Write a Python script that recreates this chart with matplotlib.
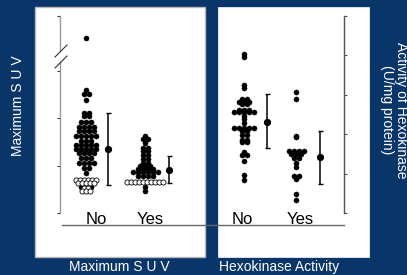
import numpy as np
import matplotlib
matplotlib.use('Agg')
import matplotlib.pyplot as plt
from matplotlib.lines import Line2D
from matplotlib.patches import Rectangle
import matplotlib.transforms as mtransforms

plt.rcParams['font.family'] = ['Liberation Sans', 'DejaVu Sans']

# ---------------- data ----------------
categories = ['No', 'Yes']

# Maximum SUV (left panel)
suv_no_filled = [3.70, 2.60, 2.52, 2.52, 2.39, 2.11, 2.11, 2.05, 2.05,
                 1.92, 1.92, 1.92, 1.82, 1.82, 1.82, 1.82, 1.73, 1.73, 1.73, 1.73,
                 1.63, 1.63, 1.63, 1.63, 1.63, 1.52, 1.52, 1.52,
                 1.44, 1.44, 1.44, 1.44, 1.44, 1.35, 1.35, 1.35, 1.35, 1.35,
                 1.27, 1.27, 1.27, 1.27, 1.16, 1.16, 1.16, 1.06, 1.06, 1.06, 1.06,
                 0.95, 0.95, 0.85, 0.56, 0.56, 0.56]
suv_no_open = [0.70, 0.70, 0.70, 0.70, 0.70, 0.70, 0.63, 0.63, 0.63, 0.63, 0.63,
               0.53, 0.53, 0.47, 0.47, 0.47]
suv_yes_filled = [1.63, 1.56, 1.56, 1.48, 1.37, 1.37, 1.31, 1.31, 1.23, 1.23,
                  1.14, 1.14, 1.06, 1.06, 0.99, 0.99, 0.99, 0.93, 0.93, 0.93, 0.93,
                  0.87, 0.87, 0.87, 0.87, 0.87, 0.87, 0.78, 0.78, 0.78, 0.78,
                  0.55, 0.47]
suv_yes_open = [0.66, 0.66, 0.66, 0.66, 0.66, 0.66, 0.66, 0.66, 0.66, 0.66]
suv_mean = [1.35, 0.91]
suv_low = [0.59, 0.63]
suv_high = [2.11, 1.21]

# Hexokinase activity (right panel, U/mg protein)
hk_no = [4.04, 3.96, 3.25, 3.17, 2.89, 2.89, 2.82, 2.82, 2.82, 2.77, 2.77,
         2.61, 2.61, 2.61, 2.56, 2.56, 2.56, 2.56, 2.56, 2.46, 2.39, 2.28,
         2.16, 2.16, 2.16, 2.16, 2.16, 2.08, 2.08, 1.98, 1.98, 1.85, 1.85,
         1.80, 1.80, 1.55, 1.47, 1.47, 1.32, 0.96, 0.84]
hk_yes = [3.07, 2.89, 1.95, 1.93, 1.57, 1.57, 1.57, 1.57, 1.50, 1.50, 1.50,
          1.40, 1.40, 1.27, 1.17, 0.94, 0.94, 0.86, 0.48, 0.33]
hk_mean = [2.31, 1.42]
hk_low = [1.65, 0.74]
hk_high = [3.02, 2.08]

# ---------------- layout ----------------
W, H = 407, 275
BG = '#0a3569'
fig = plt.figure(figsize=(W / 100, H / 100), dpi=100, facecolor=BG)

def fx(px):
    return px / W

def fy(py):
    return 1 - py / H

# white panels
fig.patches.append(Rectangle((fx(35), fy(257)), 170 / W, 250 / H, transform=fig.transFigure,
                             facecolor='white', edgecolor='#b8b8b8', lw=1, zorder=-2))
fig.patches.append(Rectangle((fx(218), fy(257)), 151 / W, 250 / H, transform=fig.transFigure,
                             facecolor='white', edgecolor='white', lw=0.5, zorder=-2))

ax_l, ax_b, ax_w, ax_h = 60, 213, 284, 197
ax = fig.add_axes([fx(ax_l), fy(ax_b), ax_w / W, ax_h / H])
ax.patch.set_alpha(0)
ax.set_xlim(0, ax_w)
ax.set_ylim(0, 4.165)
ax2 = ax.twinx()
ax2.patch.set_alpha(0)
ax2.set_ylim(0, 5)

dot_pos = [26, 85, 184, 236]
err_pos = [48, 109, 207, 260]
lab_pos = [36, 90, 182, 240]


def row_offsets(vals, s):
    """Centre each group of equal values in a horizontal row (dot-plot layout)."""
    vals = np.asarray(vals, float)
    offs = np.zeros(len(vals))
    for v in np.unique(vals):
        idx = np.where(vals == v)[0]
        n = len(idx)
        offs[idx] = (np.arange(n) - (n - 1) / 2) * s
    return offs


def draw_group(axis, xc, filled, opened=None, s_f=5.0, s_o=4.1):
    xf = xc + row_offsets(filled, s_f)
    axis.plot(xf, filled, 'o', ms=3.7, color='black', mec='black', mew=0.3, ls='none',
              clip_on=False, zorder=3)
    if opened:
        xo = xc + row_offsets(opened, s_o)
        axis.plot(xo, opened, 'o', ms=3.7, mfc='white', mec='black', mew=0.6, ls='none',
                  clip_on=False, zorder=4)


draw_group(ax, dot_pos[0], suv_no_filled, suv_no_open)
draw_group(ax, dot_pos[1], suv_yes_filled, suv_yes_open)
draw_group(ax2, dot_pos[2], hk_no)
draw_group(ax2, dot_pos[3], hk_yes)

for i in range(2):
    ax.errorbar(err_pos[i], suv_mean[i],
                yerr=[[suv_mean[i] - suv_low[i]], [suv_high[i] - suv_mean[i]]],
                fmt='o', ms=4.2, color='black', capsize=1.8, elinewidth=1.1, capthick=1.0)
    ax2.errorbar(err_pos[i + 2], hk_mean[i],
                 yerr=[[hk_mean[i] - hk_low[i]], [hk_high[i] - hk_mean[i]]],
                 fmt='o', ms=4.2, color='black', capsize=1.8, elinewidth=1.1, capthick=1.0)

# axes styling
for s in ['top', 'right', 'bottom', 'left']:
    ax.spines[s].set_visible(False)
for s in ['top', 'left', 'bottom']:
    ax2.spines[s].set_visible(False)
ax2.spines['right'].set_color('#555555')
ax2.spines['right'].set_linewidth(1.0)
ax.set_xticks([])
ax.set_yticks([0, 1, 2, 3, 4.165])
ax.tick_params(axis='y', direction='out', length=2.5, width=0.8, color='#333333', labelleft=False)
ax2.set_yticks([0, 1, 2, 3, 4, 5])
ax2.tick_params(axis='y', direction='out', length=2.5, width=0.8, color='#555555', labelright=False)

# broken left spine
ytr = ax.get_yaxis_transform()
ax.plot([0, 0], [0, 3.19], color='#999999', lw=1.0, transform=ytr, clip_on=False)
ax.plot([0, 0], [3.42, 4.165], color='#999999', lw=1.0, transform=ytr, clip_on=False)
for (x0, y0, x1, y1) in [(55, 57, 67, 45), (55, 68, 67, 56)]:
    fig.lines.append(Line2D([fx(x0), fx(x1)], [fy(y0), fy(y1)], transform=fig.transFigure,
                            color='#333333', lw=0.8, zorder=5))

# baseline
fig.lines.append(Line2D([fx(62), fx(344)], [fy(225), fy(225)], transform=fig.transFigure,
                        color='#666666', lw=1.0, zorder=5))

# category labels
btr = mtransforms.blended_transform_factory(ax.transData, fig.transFigure)
for i, lab in enumerate(categories + categories):
    ax.text(lab_pos[i], fy(224.5), lab, transform=btr, ha='center', va='baseline',
            fontsize=12, color='black', clip_on=False)

# titles / axis labels
fig.text(fx(119), fy(267), 'Maximum S U V', color='white', fontsize=10, ha='center', va='center')
fig.text(fx(279), fy(267), 'Hexokinase Activity', color='white', fontsize=10, ha='center', va='center')
fig.text(fx(18), fy(106), 'Maximum S U V', color='white', fontsize=10, ha='center', va='center',
         rotation=90)
fig.text(fx(394), fy(110), 'Activity of Hexokinase\n(U/mg protein)', color='white', fontsize=10,
         ha='center', va='center', rotation=-90, multialignment='center', linespacing=1.0)

fig.savefig('out.png', dpi=100, facecolor=BG)
